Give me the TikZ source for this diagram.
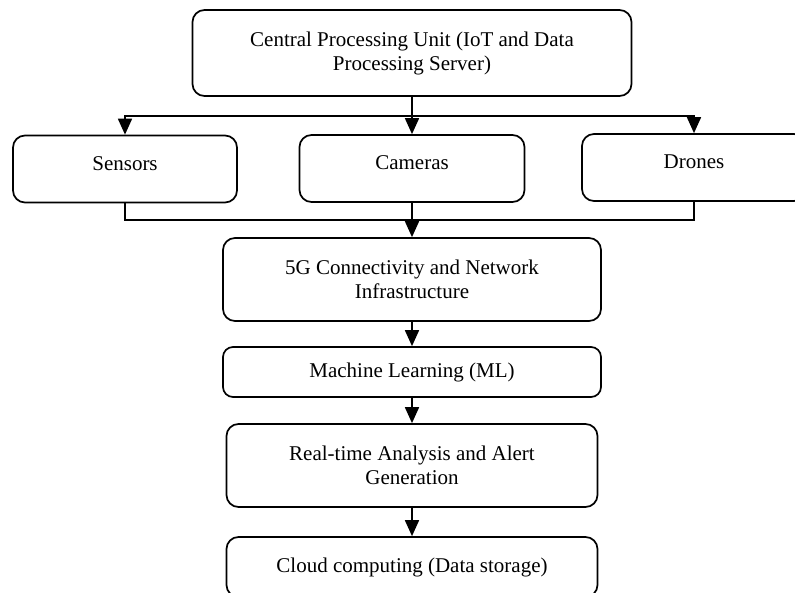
\documentclass[tikz,border=0pt]{standalone}
\usepackage{fontspec}
\setmainfont{Liberation Serif}
\usetikzlibrary{arrows.meta}
\begin{document}
\begin{tikzpicture}[x=1bp,y=-1bp,
  box/.style={draw, line width=1.7bp, rounded corners=12bp, align=center,
    font=\fontsize{21bp}{24bp}\selectfont, inner sep=0pt},
  device/.style={box, minimum width=224bp, minimum height=67bp,
    text height=15bp, text depth=12bp},
  link/.style={line width=1.7bp},
  arr/.style={link, -{Triangle[length=16bp,width=14bp]}}]
\useasboundingbox (0,0) rectangle (795,593);
\clip (0,0) rectangle (795,593);

% top level server
\node[box, minimum width=439bp, minimum height=86bp] (cpu) at (412,53)
  {Central Processing Unit (IoT and Data\\Processing Server)};

% data sources
\node[device] (sensors) at (125,169) {Sensors};
\node[device, minimum width=225bp] (cameras) at (412,168.5) {Cameras};
\node[device] (drones) at (694,167.5) {Drones};

% processing chain
\node[box, minimum width=378bp, minimum height=83bp] (net) at (412,279.5)
  {5G Connectivity and Network\\Infrastructure};
\node[box, minimum width=378bp, minimum height=50bp, rounded corners=10bp] (ml) at (412,372)
  {Machine Learning (ML)};
\node[box, minimum width=371bp, minimum height=83bp] (alert) at (412,465.5)
  {Real-time Analysis and Alert\\Generation};
\node[box, minimum width=371bp, minimum height=60bp] (cloud) at (412,567)
  {Cloud computing (Data storage)};

% distribution from the server
\coordinate (bus) at (412,116);
\draw[link] (cpu.south) -- (bus);
\draw[arr] (bus) -| (sensors.north);
\draw[arr] (bus) -| (drones.north);
\draw[arr] (bus) -- (cameras.north);

% collection into the network
\coordinate (join) at (412,220);
\draw[link] (sensors.south) |- (join);
\draw[link] (drones.south) |- (join);
\draw[arr] (cameras.south) -- (net.north);

% chain
\draw[arr] (net.south) -- (ml.north);
\draw[arr] (ml.south) -- (alert.north);
\draw[arr] (alert.south) -- (cloud.north);
\end{tikzpicture}
\end{document}
